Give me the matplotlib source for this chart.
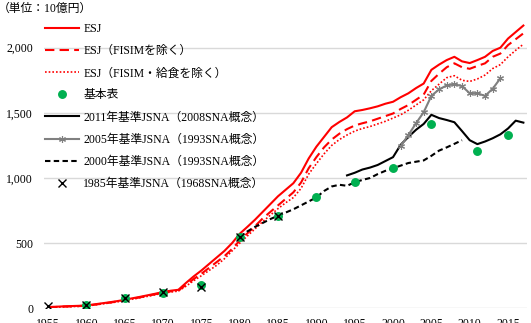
import numpy as np
import matplotlib
matplotlib.use("Agg")
import matplotlib.pyplot as plt
from matplotlib.ticker import FuncFormatter

plt.rcParams["font.family"] = ["Liberation Serif", "Noto Sans CJK JP"]

# ESJ series, 1955-2017 (10 bn yen)
years_esj = list(range(1955, 2018))
esj = [10, 12, 15, 17, 19, 22, 30, 38, 46, 55,
       65, 77, 88, 100, 112, 125, 135, 142, 195, 245,
       290, 340, 390, 440, 500, 572, 625, 680, 740, 800,
       860, 910, 960, 1040, 1150, 1240, 1315, 1390, 1430, 1465,
       1512, 1522, 1535, 1550, 1570, 1585, 1620, 1650, 1690, 1725,
       1830, 1870, 1905, 1930, 1895, 1882, 1905, 1930, 1975, 2000,
       2070, 2120, 2170]
esj_ex_fisim = [8, 10, 13, 15, 17, 20, 27, 35, 43, 52,
                62, 73, 84, 96, 108, 120, 130, 137, 180, 225,
                265, 310, 355, 400, 455, 520, 575, 630, 690, 740,
                790, 840, 890, 965, 1075, 1160, 1235, 1295, 1340, 1375,
                1403, 1420, 1435, 1455, 1475, 1495, 1530, 1560, 1600, 1640,
                1745, 1800, 1850, 1880, 1850, 1838, 1860, 1880, 1930, 1955,
                2020, 2065, 2110]
esj_ex_fisim_lunch = [6, 8, 11, 13, 15, 18, 25, 33, 41, 49,
                      59, 70, 81, 92, 104, 116, 125, 132, 170, 212,
                      250, 290, 330, 380, 440, 500, 555, 610, 665, 715,
                      765, 810, 850, 920, 1030, 1110, 1185, 1250, 1295, 1330,
                      1360, 1380, 1395, 1415, 1435, 1460, 1485, 1520, 1560, 1600,
                      1670, 1720, 1770, 1785, 1750, 1741, 1760, 1790, 1840, 1870,
                      1930, 1980, 2027]

# input-output tables
years_io = [1960, 1965, 1970, 1975, 1980, 1985, 1990, 1995, 2000, 2005, 2011, 2015]
io_table = [23, 82, 120, 177, 548, 710, 851, 967, 1075, 1415, 1210, 1333]

# JSNA 2011 base
years_2011 = list(range(1994, 2018))
jsna_2011 = [1020, 1040, 1065, 1080, 1100, 1130, 1160, 1255, 1315, 1370,
             1415, 1485, 1460, 1445, 1428, 1360, 1290, 1260, 1280, 1305,
             1335, 1380, 1440, 1425]

# JSNA 2005 base
years_2005 = list(range(2001, 2015))
jsna_2005 = [1245, 1330, 1420, 1505, 1630, 1680, 1710, 1720, 1705, 1650,
             1650, 1630, 1685, 1765]

# JSNA 2000 base
years_2000 = list(range(1980, 2010))
jsna_2000 = [548, 590, 625, 655, 685, 710, 735, 760, 790, 820,
             851, 900, 935, 948, 940, 967, 985, 1000, 1030, 1055,
             1075, 1095, 1115, 1125, 1135, 1170, 1210, 1235, 1262, 1290]

# JSNA 1985 base
years_1985 = [1955, 1960, 1965, 1970, 1975, 1980, 1985]
jsna_1985 = [18, 23, 80, 122, 162, 545, 705]

W, H = 531, 323
fig = plt.figure(figsize=(W / 100, H / 100), dpi=100)
ax = fig.add_axes([44.2 / W, 14.7 / H, 483.0 / W, 308.3 / H])

red = "#FF0000"
ax.plot(years_esj, esj, color=red, lw=1.5, label="ESJ", zorder=3)
ax.plot(years_esj, esj_ex_fisim, color=red, lw=1.5, dashes=(4.5, 2.5),
        label="ESJ（FISIMを除く）", zorder=3)
ax.plot(years_esj, esj_ex_fisim_lunch, color=red, lw=1.2, dashes=(1, 1.2),
        label="ESJ（FISIM・給食を除く）", zorder=3)
ax.plot(years_io, io_table, ls="none", marker="o", ms=5.4, color="#00B050",
        label="基本表", zorder=5)
ax.plot(years_2011, jsna_2011, color="black", lw=1.5,
        label="2011年基準JSNA（2008SNA概念）", zorder=4)
ax.plot(years_2005, jsna_2005, color="#808080", lw=1.5, marker=(6, 2, 0),
        ms=5, mec="#7f7f7f", mew=0.8,
        label="2005年基準JSNA（1993SNA概念）", zorder=4)
ax.plot(years_2000, jsna_2000, color="black", lw=1.5, dashes=(2.6, 1.6),
        label="2000年基準JSNA（1993SNA概念）", zorder=4)
ax.plot(years_1985, jsna_1985, ls="none", marker="x", ms=6.2, mew=1.0,
        color="black", label="1985年基準JSNA（1968SNA概念）", zorder=6)

ax.set_xlim(1954.5, 2017.5)
ax.set_ylim(0, 2366)
ax.set_yticks([0, 500, 1000, 1500, 2000])
ax.yaxis.set_major_formatter(FuncFormatter(lambda v, p: f"{int(v):,}"))
ax.set_xticks(range(1955, 2016, 5))
ax.grid(axis="y", color="#d9d9d9", lw=1.0)
ax.set_axisbelow(True)
for s in ax.spines.values():
    s.set_visible(False)
ax.tick_params(axis="both", length=0, labelsize=8.5, colors="black")
ax.tick_params(axis="y", pad=8)
ax.tick_params(axis="x", pad=7)

fig.text(-0.004, 1 - 3 / H, "（単位：10億円）", ha="left", va="top", fontsize=8.5)

ax.legend(loc="upper left", bbox_to_anchor=(45 / W, 1 - 23 / H),
          bbox_transform=fig.transFigure, frameon=False, fontsize=8.5,
          handlelength=2.9, handletextpad=0.35, labelspacing=0.86,
          borderpad=0, borderaxespad=0)

fig.savefig("out.png", dpi=100)
